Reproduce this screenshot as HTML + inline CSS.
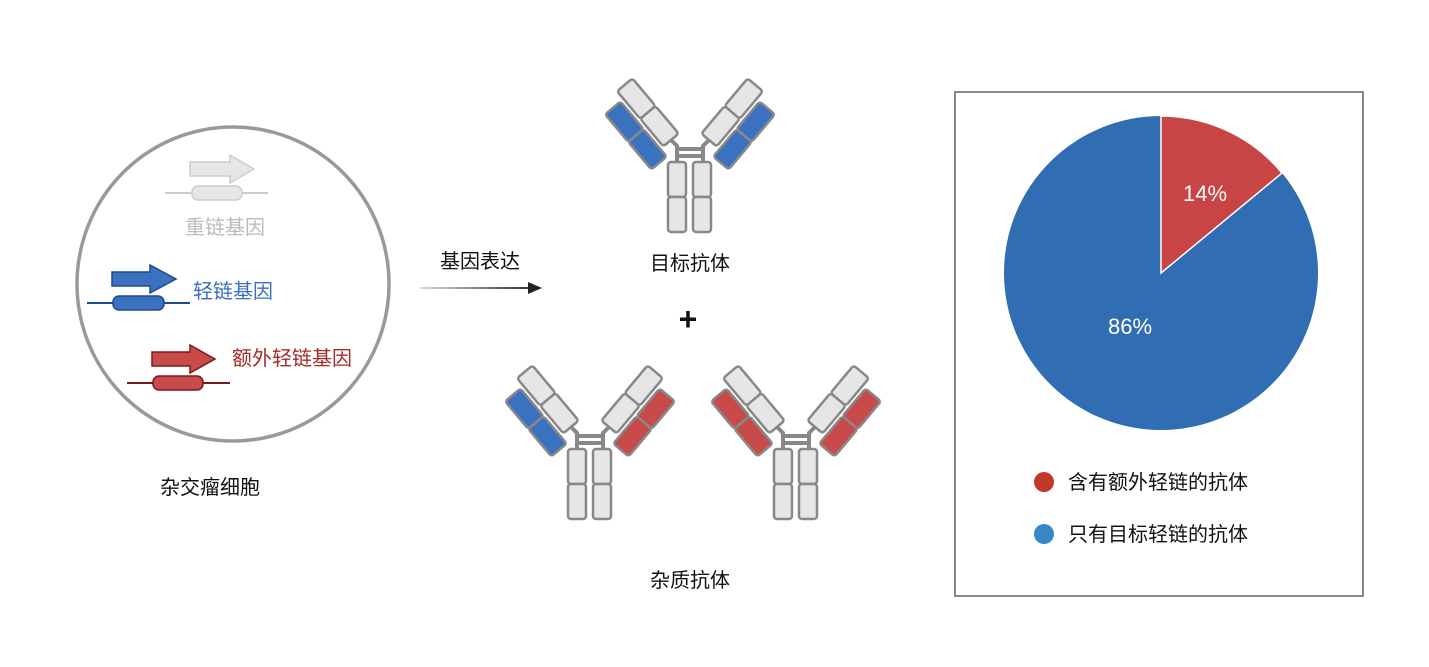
<!DOCTYPE html>
<html><head><meta charset="utf-8"><style>
body{margin:0;background:#fff;}
svg text{font-family:"Liberation Sans","Noto Sans CJK SC",sans-serif;}
</style></head><body>
<svg width="1429" height="662" viewBox="0 0 1429 662" xmlns="http://www.w3.org/2000/svg">
<defs>
<linearGradient id="ag" gradientUnits="userSpaceOnUse" x1="420" y1="0" x2="540" y2="0"><stop offset="0" stop-color="#ddd"/><stop offset="1" stop-color="#222"/></linearGradient>
<g id="stem" stroke="#888" stroke-width="2.5" fill="#e6e6e6">
  <path d="M677 162 V146 L669 138 M703 162 V146 L711 138 M677 149 H703 M677 156 H703" fill="none" stroke="#888" stroke-width="4"/>
  <rect x="668" y="162" width="18" height="35" rx="3"/>
  <rect x="668" y="197" width="18" height="35" rx="3"/>
  <rect x="693" y="162" width="18" height="35" rx="3"/>
  <rect x="693" y="197" width="18" height="35" rx="3"/>
</g>
<g id="heavy" stroke="#888" stroke-width="2.5" fill="#e6e6e6">
  <rect x="-10" y="-72" width="20" height="36" rx="3"/>
  <rect x="-10" y="-36" width="20" height="36" rx="3"/>
</g>
<g id="lb" stroke="#888" stroke-width="2.5" fill="#3a72c0">
  <rect x="-34" y="-62" width="20" height="36" rx="3"/>
  <rect x="-34" y="-26" width="20" height="36" rx="3"/>
</g>
<g id="lr" stroke="#888" stroke-width="2.5" fill="#c94a4a">
  <rect x="-34" y="-62" width="20" height="36" rx="3"/>
  <rect x="-34" y="-26" width="20" height="36" rx="3"/>
</g>
<g id="armL_b"><g transform="translate(671,140) rotate(-40)"><use href="#heavy"/><use href="#lb"/></g></g>
<g id="armL_r"><g transform="translate(671,140) rotate(-40)"><use href="#heavy"/><use href="#lr"/></g></g>
</defs>

<!-- cell -->
<ellipse cx="233" cy="284" rx="156" ry="157" fill="none" stroke="#999" stroke-width="3.5"/>
<!-- heavy gene -->
<line x1="165" y1="193" x2="268" y2="193" stroke="#ccc" stroke-width="2"/>
<rect x="192" y="186" width="50" height="14" rx="6" fill="#e6e6e6" stroke="#ccc" stroke-width="1.5"/>
<path d="M190 162 H230 V155 L254 169 L230 183 V176 H190 Z" fill="#e6e6e6" stroke="#ccc" stroke-width="1.5"/>
<text x="225" y="234" font-size="20" fill="#bbb" text-anchor="middle">重链基因</text>
<!-- light gene -->
<line x1="87" y1="303" x2="190" y2="303" stroke="#1e4a8e" stroke-width="2"/>
<rect x="113" y="296" width="51" height="14" rx="6" fill="#3a72c0" stroke="#1e4a8e" stroke-width="1.5"/>
<path d="M112 272 H150 V265 L176 279 L150 293 V286 H112 Z" fill="#3a72c0" stroke="#1e4a8e" stroke-width="1.5"/>
<text x="193" y="298" font-size="20" fill="#3a6fc0">轻链基因</text>
<!-- extra gene -->
<line x1="127" y1="383" x2="230" y2="383" stroke="#7a1a1a" stroke-width="2"/>
<rect x="153" y="376" width="50" height="14" rx="6" fill="#c94a4a" stroke="#7a1a1a" stroke-width="1.5"/>
<path d="M152 352 H190 V345 L215 359 L190 373 V366 H152 Z" fill="#c94a4a" stroke="#7a1a1a" stroke-width="1.5"/>
<text x="232" y="365" font-size="20" fill="#a52a2a">额外轻链基因</text>
<text x="210" y="494" font-size="20" fill="#111" text-anchor="middle">杂交瘤细胞</text>

<!-- expression arrow -->
<text x="480" y="268" font-size="20" fill="#111" text-anchor="middle">基因表达</text>
<rect x="420" y="287" width="110" height="2" fill="url(#ag)"/>
<path d="M528 282 L542 288 L528 294 Z" fill="#222"/>

<!-- top antibody -->
<g>
<use href="#stem"/><use href="#armL_b"/><g transform="translate(1380,0) scale(-1,1)"><use href="#armL_b"/></g>
</g>
<text x="690" y="270" font-size="20" fill="#111" text-anchor="middle">目标抗体</text>
<text x="688" y="330" font-size="32" font-weight="bold" fill="#111" text-anchor="middle">+</text>

<!-- bottom left -->
<g transform="translate(-100,287)">
<use href="#stem"/><use href="#armL_b"/><g transform="translate(1380,0) scale(-1,1)"><use href="#armL_r"/></g>
</g>
<!-- bottom right -->
<g transform="translate(106,287)">
<use href="#stem"/><use href="#armL_r"/><g transform="translate(1380,0) scale(-1,1)"><use href="#armL_r"/></g>
</g>
<text x="690" y="587" font-size="20" fill="#111" text-anchor="middle">杂质抗体</text>

<!-- box -->
<rect x="955" y="92" width="408" height="504" fill="none" stroke="#888" stroke-width="2"/>
<circle cx="1161" cy="273" r="157" fill="#306db3"/>
<path d="M1161 273 V116 A157 157 0 0 1 1282 173 Z" fill="#c94444" stroke="#fff" stroke-width="1.5"/>
<text x="1205" y="201" font-size="22" fill="#fff" text-anchor="middle">14%</text>
<text x="1130" y="334" font-size="22" fill="#fff" text-anchor="middle">86%</text>
<circle cx="1044" cy="482" r="10" fill="#c0392b"/>
<text x="1068" y="489" font-size="20" fill="#111">含有额外轻链的抗体</text>
<circle cx="1044" cy="534" r="10" fill="#3a87c8"/>
<text x="1068" y="541" font-size="20" fill="#111">只有目标轻链的抗体</text>
</svg>
</body></html>
